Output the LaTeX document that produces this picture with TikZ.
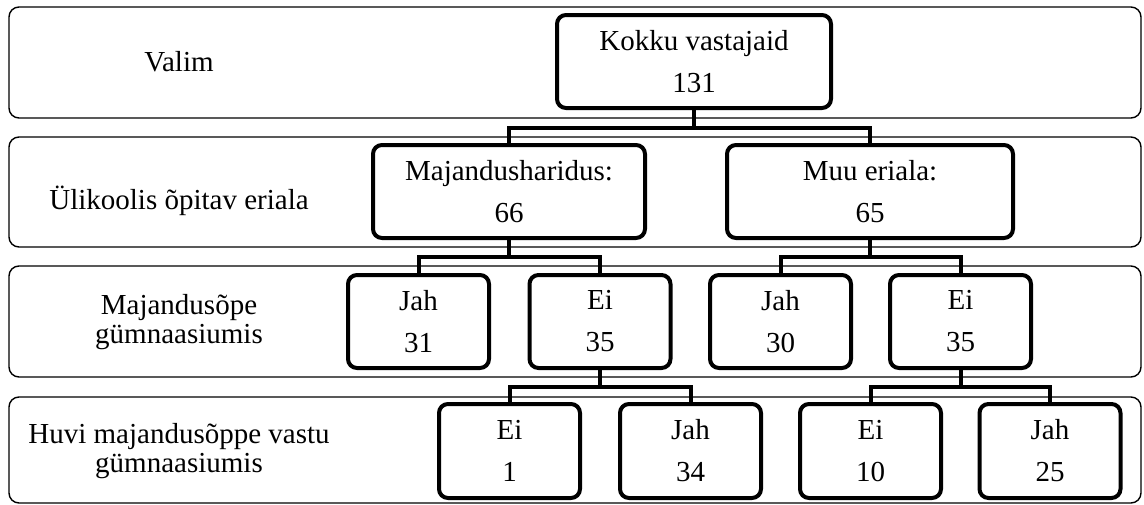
\documentclass[tikz,border=0pt]{standalone}
\usepackage{fontspec}
\setmainfont{Liberation Serif}
\tikzset{
  band/.style={draw, line width=1.4pt, rounded corners=10pt, minimum width=1132pt, inner sep=0pt},
  box/.style={draw, line width=4pt, rounded corners=9pt, fill=white, align=center, inner sep=0pt,
    minimum height=93pt, font=\fontsize{29}{42}\selectfont},
  smallbox/.style={box, minimum width=141pt},
  lab/.style={align=center, inner sep=0pt, font=\fontsize{29}{29}\selectfont},
  conn/.style={line width=4pt}
}
\begin{document}
\begin{tikzpicture}[x=1pt, y=-1pt]
\useasboundingbox (0,0) rectangle (1144,504);
% bands
\node[band, minimum height=111pt] (b1) at (575,62.5) {};
\node[band, minimum height=110pt] (b2) at (575,192) {};
\node[band, minimum height=111pt] (b3) at (575,321.5) {};
\node[band, minimum height=106pt] (b4) at (575,450) {};
% labels
\node[lab] (l1) at (179,62) {Valim};
\node[lab] (l2) at (179,200.5) {Ülikoolis õpitav eriala};
\node[lab] (l3) at (179,322) {Majandusõpe\\gümnaasiumis};
\node[lab] (l4) at (179,451) {Huvi majandusõppe vastu\\gümnaasiumis};
% boxes
\node[box, minimum width=274pt] (k) at (694,61.5) {Kokku vastajaid\\131};
\node[box, minimum width=272pt] (m) at (509,191.5) {Majandusharidus:\\66};
\node[box, minimum width=286pt] (u) at (870,191.5) {Muu eriala:\\65};
\node[smallbox] (mj) at (418.5,321.5) {Jah\\31};
\node[smallbox] (me) at (600,321.5) {Ei\\35};
\node[smallbox] (uj) at (780.5,321.5) {Jah\\30};
\node[smallbox] (ue) at (960.5,321.5) {Ei\\35};
\node[smallbox, minimum height=94pt] (mee) at (509.5,451) {Ei\\1};
\node[smallbox, minimum height=94pt] (mej) at (690.5,451) {Jah\\34};
\node[smallbox, minimum height=94pt] (uee) at (870.5,451) {Ei\\10};
\node[smallbox, minimum height=94pt] (uej) at (1050,451) {Jah\\25};
% connector junctions
\coordinate (c1) at (694,128);
\coordinate (c2) at (509,257);
\coordinate (c3) at (870,257);
\coordinate (c4) at (600,387);
\coordinate (c5) at (960.5,387);
% connectors
\draw[conn] (k.south) -- (c1);
\draw[conn] (m.north) |- (c1) -| (u.north);
\draw[conn] (m.south) -- (c2);
\draw[conn] (mj.north) |- (c2) -| (me.north);
\draw[conn] (u.south) -- (c3);
\draw[conn] (uj.north) |- (c3) -| (ue.north);
\draw[conn] (me.south) -- (c4);
\draw[conn] (mee.north) |- (c4) -| (mej.north);
\draw[conn] (ue.south) -- (c5);
\draw[conn] (uee.north) |- (c5) -| (uej.north);
\end{tikzpicture}
\end{document}
